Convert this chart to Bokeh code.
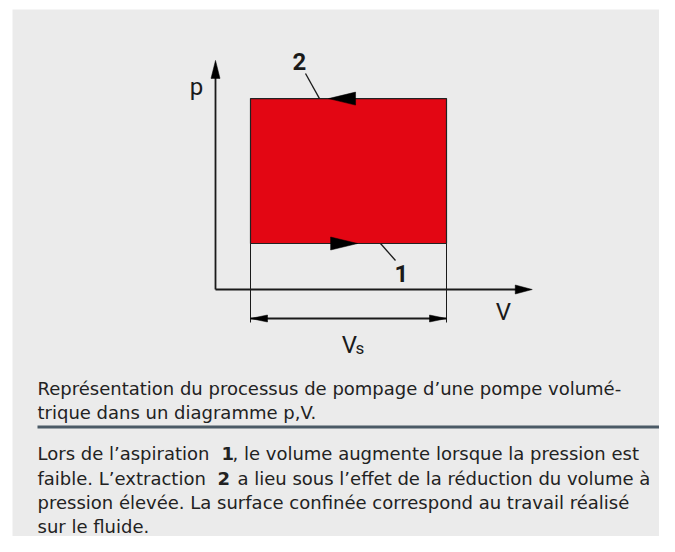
from bokeh.plotting import figure
from bokeh.models import Range1d
from bokeh.core.properties import value
from bokeh.embed import file_html
from bokeh.resources import INLINE

# ---- schematic data (p,V diagram, arbitrary units) ----
cycle_V = [1.0, 6.6]          # suction from V1 to V2 (swept volume Vs)
cycle_p = [1.0, 4.15]         # low pressure (1) / high pressure (2)
axis_V_max = 9.05
axis_p_max = 4.98
arrow_top_tip_V = 3.23        # process 2 arrow (pointing left)
arrow_bottom_tip_V = 4.06     # process 1 arrow (pointing right)
axis_labels = ["p", "V"]
step_labels = ["1", "2"]
dim_label = "V"
dim_sub = "s"

caption_lines = ["Représentation du processus de pompage d’une pompe volumé-",
                 "trique dans un diagramme p,V."]
body_segments = [
    # (line index, text, bold, x position in px)
    (0, "Lors de l’aspiration", False, 37),
    (0, "1", True, 221),
    (0, ", le volume augmente lorsque la pression est", False, 232),
    (1, "faible. L’extraction", False, 37),
    (1, "2", True, 217),
    (1, "a lieu sous l’effet de la réduction du volume à", False, 237),
    (2, "pression élevée. La surface confinée correspond au travail réalisé", False, 37),
    (3, "sur le fluide.", False, 37),
]

# ---- layout (screen pixels -> data units) ----
W, H = 659, 536
OX, OY = 215, 289      # screen position of origin
SX, SY = 35.0, 46.0    # px per unit

def dx(px):
    return (px - OX) / SX

def dy(py):
    return (OY - py) / SY

p = figure(width=W, height=H, output_backend="svg", toolbar_location=None,
           x_range=Range1d(dx(0), dx(W)), y_range=Range1d(dy(H), dy(0)),
           min_border=0, outline_line_color=None, background_fill_color="white",
           border_fill_color="white")
p.axis.visible = False
p.grid.visible = False

# panel
p.quad(left=[dx(12)], right=[dx(700)], top=[dy(9)], bottom=[dy(600)],
       fill_color="#ebebeb", line_color=None)

# cycle area
p.quad(left=[cycle_V[0]], right=[cycle_V[1]], bottom=[cycle_p[0]], top=[cycle_p[1]],
       fill_color="#e30613", line_color="#222222", line_width=1.2)

ink = "#1a1a1a"
# axes
p.segment(x0=[0, 0], y0=[0, 0], x1=[0, axis_V_max - 10 / SX], y1=[axis_p_max - 10 / SY, 0],
          line_color=ink, line_width=1.8)

def head(tipx, tipy, direction, length, half):
    if direction == "up":
        return ([tipx, tipx - half / SX, tipx + half / SX], [tipy, tipy - length / SY, tipy - length / SY])
    if direction == "right":
        return ([tipx, tipx - length / SX, tipx - length / SX], [tipy, tipy + half / SY, tipy - half / SY])
    return ([tipx, tipx + length / SX, tipx + length / SX], [tipy, tipy + half / SY, tipy - half / SY])

hx, hy = [], []
for args in [(0, axis_p_max, "up", 18, 4.5),
             (axis_V_max, 0, "right", 17, 4.5),
             (arrow_top_tip_V, cycle_p[1], "left", 27, 6.5),
             (arrow_bottom_tip_V, cycle_p[0], "right", 27, 6.5)]:
    a, b = head(*args)
    hx.append(a)
    hy.append(b)

# dimension line for Vs
ext_bottom = dy(322)
dim_y = dy(318)
p.segment(x0=[cycle_V[0], cycle_V[1]], y0=[cycle_p[0], cycle_p[0]],
          x1=[cycle_V[0], cycle_V[1]], y1=[ext_bottom, ext_bottom],
          line_color=ink, line_width=1.0)
p.segment(x0=[cycle_V[0]], y0=[dim_y], x1=[cycle_V[1]], y1=[dim_y],
          line_color=ink, line_width=1.8)
for args in [(cycle_V[0], dim_y, "left", 17, 3.5), (cycle_V[1], dim_y, "right", 17, 3.5)]:
    a, b = head(*args)
    hx.append(a)
    hy.append(b)

p.patches(xs=hx, ys=hy, fill_color="black", line_color="black", line_width=0.5)

# leader lines
p.segment(x0=[dx(305), dx(380)], y0=[dy(73), cycle_p[0]],
          x1=[dx(319), dx(395)], y1=[cycle_p[1], dy(260)],
          line_color=ink, line_width=1.3)

dfont = value("Roboto")
# axis labels
p.text(x=[dx(196), dx(503)], y=[dy(86), dy(311)], text=axis_labels,
       text_font=dfont, text_font_size=value("24px"), text_color=ink,
       text_align="center", text_baseline="middle")
# step labels
p.text(x=[dx(401), dx(299)], y=[dy(273), dy(61)], text=step_labels,
       text_font=dfont, text_font_size=value("24px"), text_font_style="bold",
       text_color=ink, text_align="center", text_baseline="middle")
# Vs
p.text(x=[dx(349)], y=[dy(344)], text=[dim_label], text_font=dfont,
       text_font_size=value("24px"), text_color=ink, text_align="center",
       text_baseline="alphabetic")
p.text(x=[dx(355)], y=[dy(347)], text=[dim_sub], text_font=dfont,
       text_font_size=value("17px"), text_color=ink, text_align="left",
       text_baseline="alphabetic")

# caption
font = value("DejaVu Sans")
txt_color = "#222222"
fs = value("18px")
p.text(x=[dx(37), dx(37)], y=[dy(388), dy(412)], text=caption_lines,
       text_font=font, text_font_size=fs, text_color=txt_color,
       text_align="left", text_baseline="alphabetic")
# separator
p.segment(x0=[dx(37)], y0=[dy(426.5)], x1=[dx(662)], y1=[dy(426.5)],
          line_color="#4b5a66", line_width=3)

baselines = [453, 478, 502, 526]
for li, t, bold, xpx in body_segments:
    p.text(x=[dx(xpx)], y=[dy(baselines[li])], text=[t], text_font=font,
           text_font_size=fs, text_font_style="bold" if bold else "normal",
           text_color=txt_color, text_align="left", text_baseline="alphabetic")

open("out.html", "w").write(file_html(p, INLINE))
